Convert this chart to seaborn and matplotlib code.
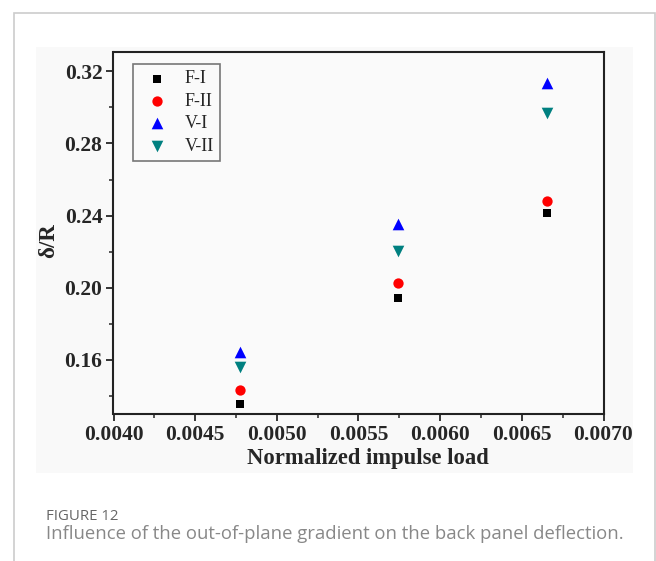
import pandas as pd
import matplotlib.pyplot as plt
import seaborn as sns
from matplotlib.patches import Rectangle
from matplotlib.ticker import MultipleLocator, FormatStrFormatter

# dati
impulse = [0.004775, 0.005744, 0.006653]
f_one = [0.1354, 0.1945, 0.2415]
f_two = [0.1432, 0.2025, 0.2481]
v_one = [0.1642, 0.2354, 0.3135]
v_two = [0.1563, 0.2206, 0.2968]

cases = ['F-I', 'F-II', 'V-I', 'V-II']
colors = ['black', 'red', 'blue', '#008080']
markers = ['s', 'o', '^', 'v']
sizes = [40, 55, 70, 70]

df = pd.DataFrame({
    'load': impulse * 4,
    'dr': f_one + f_two + v_one + v_two,
    'case': [c for c in cases for _ in impulse],
})

sns.set_style('ticks')
plt.rcParams['font.family'] = ['Liberation Serif', 'DejaVu Serif']

fig = plt.figure(figsize=(6.56, 5.61), dpi=100)
fig.patch.set_facecolor('white')

# cornice della figura e sfondo dell'immagine
fig.add_artist(Rectangle((14 / 656, -0.05), 641 / 656, 1.05 - 13 / 561,
                         transform=fig.transFigure, facecolor='none',
                         edgecolor='#cccccc', linewidth=1.2))
fig.add_artist(Rectangle((36 / 656, 1 - 473 / 561), 597 / 656, 426 / 561,
                         transform=fig.transFigure, facecolor='#f9f9f9',
                         edgecolor='none', zorder=0))

ax = fig.add_axes([113.5 / 656, 1 - 414 / 561, 490 / 656, 362 / 561])
ax.set_facecolor('#fafafa')

for case, color, marker, size in zip(cases, colors, markers, sizes):
    sns.scatterplot(data=df[df['case'] == case], x='load', y='dr', ax=ax,
                    color=color, marker=marker, s=size, linewidth=0,
                    label=case)

ax.set_xlim(0.004, 0.007)
ax.set_ylim(0.13, 0.3307)
ax.xaxis.set_major_locator(MultipleLocator(0.0005))
ax.xaxis.set_minor_locator(MultipleLocator(0.00025))
ax.yaxis.set_major_locator(MultipleLocator(0.04))
ax.yaxis.set_minor_locator(MultipleLocator(0.02))
ax.xaxis.set_major_formatter(FormatStrFormatter('%.4f'))
ax.yaxis.set_major_formatter(FormatStrFormatter('%.2f'))

ax.tick_params(which='major', direction='out', length=5, width=1.3,
               labelsize=15.5, pad=3)
ax.tick_params(which='minor', direction='out', length=3, width=1.1)
for lab in ax.get_xticklabels() + ax.get_yticklabels():
    lab.set_fontweight('bold')

for side in ax.spines.values():
    side.set_linewidth(1.5)
    side.set_color('#222222')

ax.set_xlabel('Normalized impulse load', fontsize=16.3, fontweight='bold')
ax.xaxis.set_label_coords(0.519, -0.093)
ax.set_ylabel('δ/R', fontsize=16.5, fontweight='bold')
ax.yaxis.set_label_coords(-0.111, 0.478)

leg = ax.legend(loc='upper left', bbox_to_anchor=(0.04, 0.967),
                borderaxespad=0, fontsize=13, frameon=True, fancybox=False,
                edgecolor='#777777', framealpha=1, facecolor='#fafafa',
                handletextpad=0.5, labelspacing=0.3, borderpad=0.35,
                handlelength=2.0)
leg.get_frame().set_linewidth(1.2)

fig.text(46 / 656, 1 - 517 / 561, 'FIGURE 12', fontsize=10.8,
         color='#666666', family=['Open Sans', 'DejaVu Sans'], va='center')
fig.text(46 / 656, 1 - 534 / 561,
         'Influence of the out-of-plane gradient on the back panel deflection.',
         fontsize=13.3, color='#888888', family=['Open Sans', 'DejaVu Sans'],
         va='center')

fig.savefig('out.png', dpi=100, facecolor='white')
